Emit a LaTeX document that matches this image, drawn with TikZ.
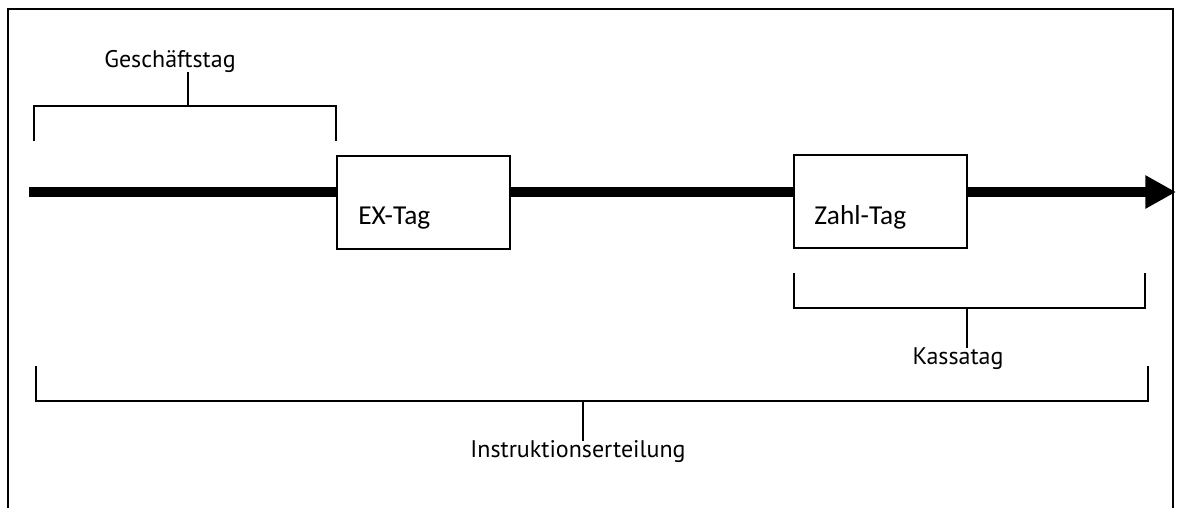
\documentclass[tikz,border=0pt]{standalone}
\usepackage{fontspec}
\setmainfont{Carlito}
\newfontfamily\lblfont{PT Sans}
\usetikzlibrary{arrows.meta}
\begin{document}
\begin{tikzpicture}[x=0.75pt,y=-0.75pt,
  frameline/.style={line width=1.4pt},
  bracket/.style={line width=1.2pt},
  daybox/.style={draw,line width=1.1pt,fill=white,minimum width=173*0.75pt,minimum height=93*0.75pt,inner sep=0pt},
  boxtext/.style={font=\fontsize{20.5}{23}\selectfont,anchor=west,inner sep=0pt},
  lbl/.style={font=\lblfont\fontsize{18}{21}\selectfont,inner sep=0pt},
  timeline/.style={line width=7.5pt}]
\useasboundingbox (0,0) rectangle (1182,508);
% frame (open at bottom)
\draw[frameline] (8,508) -- (8,9) -- (1173,9) -- (1173,508);
% boxes
\node[daybox] (ex) at (423.5,202.5) {};
\node[daybox] (zahl) at (880.5,201.5) {};
\node[boxtext] (extxt) at (358,218) {EX-Tag};
\node[boxtext] (zahltxt) at (814,217) {Zahl-Tag};
% timeline
\coordinate (t0) at (29,192);
\coordinate (tend) at (1176,192);
\draw[timeline] (t0) -- (ex.west |- t0);
\draw[timeline] (ex.east |- t0) -- (zahl.west |- t0);
\draw[timeline,-{Triangle[length=23pt,width=23.5pt]}] (zahl.east |- t0) -- (tend);
% Geschaeftstag bracket
\coordinate (g1) at (34,141);
\coordinate (g2) at (336,141);
\coordinate (gs) at (188,106);
\draw[bracket] (g1) -- (34,106) -- (336,106) -- (g2);
\node[lbl] (gtxt) at (170,61) {Geschäftstag};
\draw[bracket] (gs) -- (gtxt.south -| gs);
% Kassatag bracket
\draw[bracket] (794,273) -- (794,308) -- (1145,308) -- (1145,273);
\coordinate (ks) at (967,308);
\node[lbl] (ktxt) at (958,359) {Kassatag};
\draw[bracket] (ks) -- (ktxt.north -| ks);
% Instruktionserteilung bracket
\draw[bracket] (36,366) -- (36,401) -- (1148,401) -- (1148,366);
\coordinate (is) at (583,401);
\node[lbl] (itxt) at (578,452) {Instruktionserteilung};
\draw[bracket] (is) -- (itxt.north -| is);
\end{tikzpicture}
\end{document}
